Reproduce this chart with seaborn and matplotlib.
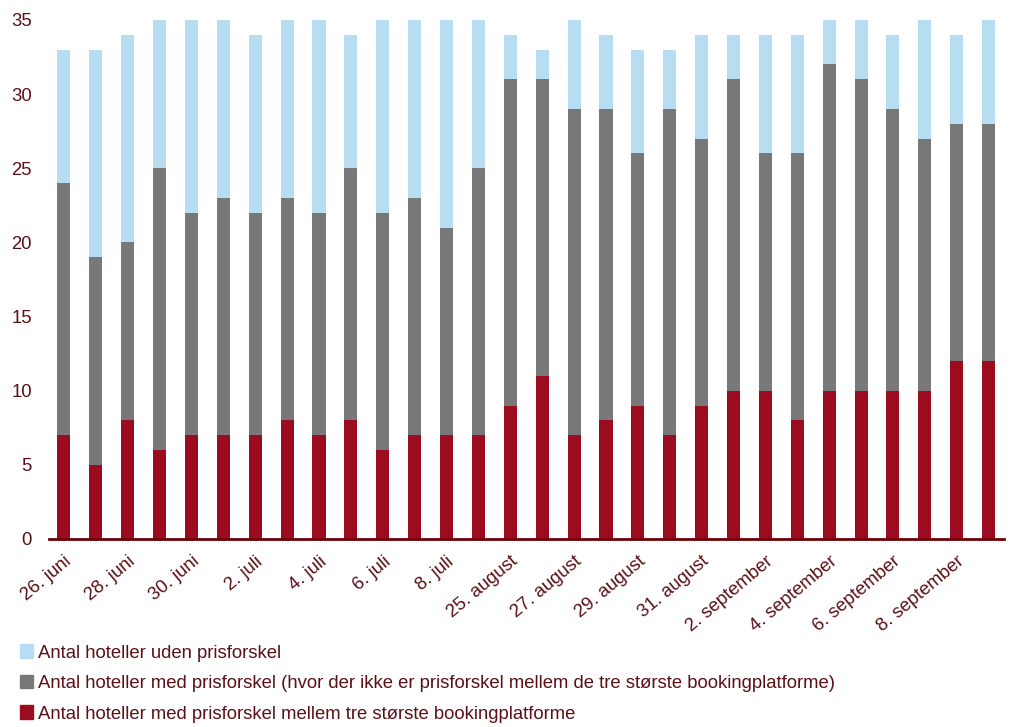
import matplotlib as mpl
mpl.use('Agg')
import matplotlib.pyplot as plt
import pandas as pd
import seaborn as sns
from matplotlib.patches import Patch

dates = ['26. juni', '27. juni', '28. juni', '29. juni', '30. juni',
         '1. juli', '2. juli', '3. juli', '4. juli', '5. juli', '6. juli', '7. juli', '8. juli', '9. juli',
         '25. august', '26. august', '27. august', '28. august', '29. august', '30. august', '31. august',
         '1. september', '2. september', '3. september', '4. september', '5. september',
         '6. september', '7. september', '8. september', '9. september']
# hotels with price gap between the three biggest booking platforms
red_vals = [7, 5, 8, 6, 7, 7, 7, 8, 7, 8, 6, 7, 7, 7, 9, 11, 7, 8, 9, 7, 9, 10, 10, 8, 10, 10, 10, 10, 12, 12]
# hotels with price gap (not between the three biggest)
gray_vals = [17, 14, 12, 19, 15, 16, 15, 15, 15, 17, 16, 16, 14, 18, 22, 20, 22, 21, 17, 22, 18, 21, 16, 18, 22, 21, 19, 17, 16, 16]
# hotels without price gap
blue_vals = [9, 14, 14, 10, 13, 12, 12, 12, 13, 9, 13, 12, 14, 10, 3, 2, 6, 5, 7, 4, 7, 3, 8, 8, 3, 4, 5, 8, 6, 7]

labels = ['Antal hoteller uden prisforskel',
          'Antal hoteller med prisforskel (hvor der ikke er prisforskel mellem de tre største bookingplatforme)',
          'Antal hoteller med prisforskel mellem tre største bookingplatforme']

c_blue = '#b7ddf3'
c_gray = '#787878'
c_red = '#9b0c20'
c_text = '#5a1016'

df = pd.DataFrame({'dato': dates, 'red': red_vals, 'gray': gray_vals, 'blue': blue_vals})
df['mid'] = df['red'] + df['gray']
df['total'] = df['mid'] + df['blue']

plt.rcParams['font.family'] = ['Liberation Sans', 'DejaVu Sans']
fig = plt.figure(figsize=(10.13, 7.27), dpi=100)
ax = fig.add_axes([0.048, 0.2586, 0.943, 0.714])

# stacked look by overdrawing cumulative heights
sns.barplot(data=df, x='dato', y='total', color=c_blue, width=0.41, saturation=1, ax=ax)
sns.barplot(data=df, x='dato', y='mid', color=c_gray, width=0.41, saturation=1, ax=ax)
sns.barplot(data=df, x='dato', y='red', color=c_red, width=0.41, saturation=1, ax=ax)

ax.set_xlim(-0.48, 29.48)
ax.set_ylim(0, 35)
ax.set_yticks(range(0, 36, 5))
ax.set_xlabel('')
ax.set_ylabel('')
ax.set_xticks(range(len(dates)))
ax.set_xticklabels([d if i % 2 == 0 else '' for i, d in enumerate(dates)],
                   rotation=40, ha='right', rotation_mode='anchor')
ax.tick_params(axis='both', length=0, labelsize=13.3, colors=c_text)
ax.tick_params(axis='y', pad=12)
ax.tick_params(axis='x', pad=10)
for s in ['top', 'right', 'left']:
    ax.spines[s].set_visible(False)
ax.spines['bottom'].set_color('#6b0008')
ax.spines['bottom'].set_linewidth(2)

handles = [Patch(color=c_blue), Patch(color=c_gray), Patch(color=c_red)]
fig.legend(handles, labels, loc='lower left', bbox_to_anchor=(0.012, -0.004), frameon=False,
           fontsize=13.3, labelcolor=c_text, handlelength=0.75, handleheight=0.75,
           handletextpad=0.25, labelspacing=0.72, borderaxespad=0)

fig.savefig('out.png', dpi=100)
